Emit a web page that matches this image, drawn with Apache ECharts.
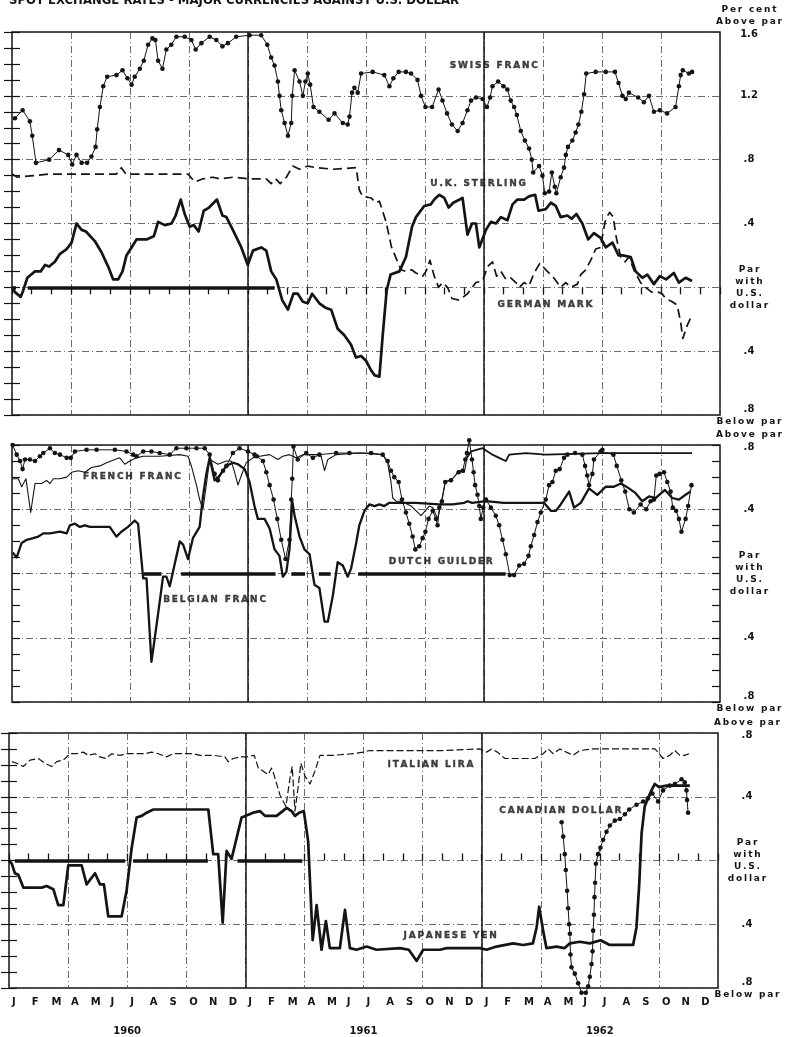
<!DOCTYPE html>
<html>
<head>
<meta charset="utf-8">
<title>Spot exchange rates - major currencies against U.S. dollar</title>
<script src="https://cdn.jsdelivr.net/npm/echarts@6/dist/echarts.min.js"></script>
<style>
  html, body { margin: 0; padding: 0; background: #fff; }
  #chart { width: 786px; height: 1037px; }
</style>
</head>
<body>
<div id="chart"></div>
<script>
// x = months since 1 Jan 1960, y = per cent above (+) / below (-) par with the U.S. dollar
const monthLetters = ["J", "F", "M", "A", "M", "J", "J", "A", "S", "O", "N", "D"]
const yearLabels = ["1960", "1961", "1962"]
const yearMidMonths = [6, 18, 30]
const yearStarts = [12, 24]
const parLabel = ["Par", "with", "U.S.", "dollar"]

// ---- panel 1
const swissFranc = [[0.15,1.06],[0.54,1.11],[0.91,1.04],[1.03,0.95],[1.22,0.78],[1.89,0.80],[2.39,0.86],[2.86,0.83],[3.06,0.77],[3.28,0.83],[3.54,0.78],[3.82,0.78],[4.04,0.82],[4.25,0.88],[4.33,0.99],[4.47,1.13],[4.64,1.26],[4.84,1.32],[5.31,1.33],[5.62,1.36],[5.87,1.31],[6.08,1.27],[6.24,1.32],[6.5,1.37],[6.7,1.42],[6.92,1.52],[7.14,1.56],[7.29,1.55],[7.43,1.42],[7.65,1.37],[7.85,1.49],[8.1,1.52],[8.36,1.57],[8.78,1.57],[9.12,1.55],[9.34,1.49],[9.63,1.53],[10.05,1.57],[10.39,1.55],[10.7,1.51],[10.98,1.53],[11.4,1.57],[12.08,1.58],[12.67,1.58],[12.98,1.52],[13.18,1.44],[13.35,1.39],[13.52,1.29],[13.6,1.20],[13.69,1.11],[13.86,1.03],[14.03,0.95],[14.2,1.03],[14.25,1.20],[14.37,1.36],[14.62,1.29],[14.79,1.20],[14.92,1.29],[15.04,1.34],[15.16,1.27],[15.33,1.13],[15.63,1.10],[16.1,1.05],[16.4,1.09],[16.82,1.03],[17.07,1.02],[17.16,1.07],[17.29,1.22],[17.41,1.25],[17.58,1.22],[17.75,1.34],[18.34,1.35],[18.93,1.33],[19.19,1.26],[19.39,1.31],[19.66,1.35],[20.03,1.35],[20.29,1.34],[20.62,1.30],[20.8,1.20],[21.02,1.13],[21.36,1.13],[21.69,1.24],[21.89,1.17],[22.12,1.09],[22.37,1.02],[22.66,0.98],[22.91,1.03],[23.16,1.11],[23.34,1.17],[23.59,1.19],[23.93,1.18],[24.15,1.13],[24.31,1.19],[24.43,1.26],[24.72,1.29],[24.99,1.26],[25.19,1.24],[25.36,1.17],[25.53,1.13],[25.67,1.08],[25.87,0.98],[26.08,0.92],[26.29,0.87],[26.43,0.80],[26.5,0.72],[26.8,0.76],[26.97,0.70],[27.09,0.59],[27.31,0.60],[27.45,0.72],[27.6,0.63],[27.68,0.59],[27.9,0.69],[28.07,0.75],[28.16,0.83],[28.27,0.88],[28.49,0.92],[28.66,0.97],[28.8,1.02],[28.95,1.10],[29.09,1.21],[29.2,1.34],[29.68,1.35],[30.19,1.35],[30.66,1.35],[30.84,1.28],[31.04,1.20],[31.21,1.18],[31.37,1.22],[31.84,1.19],[32.13,1.16],[32.39,1.20],[32.64,1.10],[32.94,1.11],[33.31,1.09],[33.74,1.13],[33.91,1.26],[34.0,1.33],[34.11,1.36],[34.42,1.34],[34.58,1.35]]
const ukSterling = [[0,0.0],[0.15,-0.03],[0.44,-0.06],[0.57,-0.02],[0.78,0.06],[1.17,0.10],[1.46,0.10],[1.68,0.14],[1.89,0.13],[2.18,0.16],[2.44,0.21],[2.78,0.24],[3.03,0.28],[3.28,0.40],[3.54,0.36],[3.76,0.35],[4.21,0.29],[4.55,0.22],[4.89,0.13],[5.14,0.05],[5.4,0.05],[5.62,0.10],[5.82,0.20],[6.08,0.25],[6.33,0.30],[6.84,0.30],[7.21,0.32],[7.43,0.41],[7.77,0.39],[8.11,0.40],[8.32,0.45],[8.58,0.55],[8.78,0.46],[9.04,0.38],[9.24,0.39],[9.49,0.35],[9.75,0.48],[10.02,0.50],[10.42,0.55],[10.7,0.45],[10.9,0.44],[11.23,0.36],[11.66,0.25],[11.99,0.14],[12.25,0.23],[12.67,0.25],[12.93,0.23],[13.18,0.10],[13.44,0.05],[13.74,-0.08],[14.03,-0.14],[14.31,-0.04],[14.53,-0.04],[14.79,-0.09],[15.04,-0.10],[15.26,-0.04],[15.63,-0.10],[15.97,-0.13],[16.23,-0.14],[16.56,-0.26],[16.9,-0.30],[17.24,-0.36],[17.49,-0.44],[17.75,-0.43],[18.0,-0.46],[18.26,-0.52],[18.43,-0.55],[18.68,-0.56],[18.85,-0.30],[19.05,-0.02],[19.25,0.08],[19.7,0.10],[20.03,0.19],[20.34,0.38],[20.54,0.44],[20.96,0.51],[21.3,0.52],[21.47,0.55],[21.73,0.58],[21.98,0.56],[22.2,0.50],[22.44,0.53],[22.91,0.56],[23.16,0.33],[23.39,0.40],[23.59,0.40],[23.76,0.25],[24.1,0.36],[24.35,0.41],[24.61,0.40],[24.86,0.44],[25.19,0.42],[25.45,0.52],[25.7,0.55],[26.04,0.55],[26.29,0.57],[26.6,0.58],[26.77,0.48],[27.14,0.49],[27.4,0.53],[27.65,0.51],[27.9,0.44],[28.24,0.45],[28.46,0.43],[28.7,0.46],[29.0,0.40],[29.3,0.30],[29.59,0.34],[29.93,0.31],[30.19,0.25],[30.53,0.28],[30.84,0.20],[31.04,0.20],[31.46,0.19],[31.71,0.10],[32.05,0.06],[32.3,0.08],[32.64,0.02],[32.94,0.07],[33.26,0.05],[33.65,0.09],[33.91,0.03],[34.25,0.06],[34.58,0.04]]
const germanMark = [[0,0.71],[0.27,0.69],[1.08,0.70],[1.93,0.71],[5.31,0.71],[5.56,0.75],[5.79,0.71],[8.95,0.71],[9.29,0.66],[9.71,0.68],[10.22,0.69],[10.56,0.68],[11.23,0.69],[12.08,0.68],[12.93,0.68],[13.18,0.65],[13.4,0.68],[13.64,0.65],[13.95,0.69],[14.28,0.76],[14.62,0.74],[15.04,0.76],[15.47,0.75],[16.31,0.74],[17.5,0.75],[17.66,0.61],[17.83,0.57],[18.26,0.56],[18.51,0.53],[18.68,0.54],[19.02,0.41],[19.3,0.25],[19.78,0.11],[20.03,0.10],[20.32,0.11],[20.54,0.09],[20.88,0.07],[21.05,0.10],[21.25,0.17],[21.47,0.07],[21.69,0.00],[21.89,0.03],[22.15,0.00],[22.37,-0.07],[22.74,-0.08],[23.16,-0.04],[23.59,0.03],[23.93,0.04],[24.18,0.13],[24.43,0.16],[24.64,0.07],[24.86,0.10],[25.11,0.05],[25.36,0.06],[25.62,0.03],[25.79,0.00],[26.04,0.03],[26.29,0.01],[26.55,0.09],[26.84,0.15],[27.14,0.11],[27.48,0.07],[27.9,0.00],[28.16,0.03],[28.41,0.00],[28.75,0.02],[28.92,0.08],[29.17,0.11],[29.43,0.17],[29.68,0.24],[29.93,0.25],[30.05,0.34],[30.19,0.43],[30.39,0.47],[30.57,0.44],[30.73,0.31],[30.95,0.19],[31.17,0.16],[31.37,0.19],[31.62,0.11],[31.96,0.03],[32.22,0.00],[32.52,-0.03],[32.86,-0.03],[33.06,-0.04],[33.23,-0.07],[33.57,-0.09],[33.82,-0.11],[34.0,-0.22],[34.11,-0.32],[34.33,-0.24],[34.55,-0.18]]

// ---- panel 2
const frenchFranc = [[0.03,0.59],[0.32,0.59],[0.49,0.54],[0.71,0.59],[0.95,0.38],[1.17,0.56],[1.51,0.56],[1.76,0.58],[1.93,0.56],[2.1,0.59],[2.44,0.59],[2.78,0.60],[3.03,0.63],[3.37,0.64],[3.71,0.63],[4.04,0.66],[4.47,0.67],[4.81,0.69],[5.23,0.71],[5.48,0.72],[5.74,0.68],[5.99,0.70],[6.33,0.72],[6.67,0.73],[7.51,0.73],[8.53,0.74],[8.95,0.73],[9.12,0.67],[9.38,0.55],[9.54,0.46],[9.71,0.40],[9.88,0.55],[10.05,0.71],[10.47,0.68],[10.9,0.70],[11.15,0.70],[11.32,0.63],[11.49,0.55],[11.66,0.61],[11.91,0.69],[12.25,0.72],[12.59,0.73],[13.1,0.74],[13.52,0.71],[13.77,0.73],[14.11,0.74],[14.45,0.72],[14.79,0.74],[15.47,0.74],[15.72,0.73],[15.89,0.64],[16.06,0.71],[16.48,0.74],[17.66,0.75],[18.85,0.74],[19.1,0.69],[19.27,0.57],[19.36,0.47],[19.53,0.45],[19.78,0.45],[20.3,0.42],[20.8,0.36],[21.22,0.42],[21.4,0.41],[21.64,0.34],[21.81,0.43],[22.03,0.57],[22.4,0.59],[22.74,0.64],[23.0,0.63],[23.13,0.72],[23.34,0.76],[23.93,0.78],[24.43,0.74],[24.77,0.72],[25.11,0.70],[25.28,0.74],[26.13,0.75],[27.14,0.74],[30.0,0.75],[34.58,0.75]]
const belgianFranc = [[0.03,0.13],[0.24,0.10],[0.49,0.19],[0.75,0.21],[1.08,0.22],[1.34,0.23],[1.59,0.25],[1.93,0.25],[2.44,0.26],[2.78,0.25],[2.94,0.30],[3.2,0.31],[3.45,0.29],[3.71,0.30],[3.96,0.29],[4.47,0.29],[4.97,0.29],[5.31,0.23],[5.56,0.26],[5.9,0.29],[6.24,0.33],[6.41,0.31],[6.67,-0.03],[6.84,-0.03],[7.09,-0.55],[7.43,-0.25],[7.68,-0.02],[7.85,-0.02],[8.02,-0.08],[8.53,0.20],[8.7,0.18],[8.95,0.09],[9.2,0.22],[9.54,0.29],[9.71,0.48],[9.88,0.62],[10.05,0.72],[10.3,0.58],[10.56,0.61],[10.9,0.67],[11.23,0.69],[11.49,0.68],[11.83,0.65],[12.08,0.57],[12.33,0.42],[12.5,0.34],[12.84,0.34],[13.1,0.28],[13.35,0.15],[13.6,0.11],[13.77,-0.02],[13.95,0.01],[14.11,0.15],[14.25,0.45],[14.37,0.36],[14.62,0.23],[14.87,0.15],[15.13,0.12],[15.38,-0.07],[15.63,-0.09],[15.89,-0.30],[16.06,-0.30],[16.31,-0.14],[16.56,0.07],[16.82,0.05],[17.07,-0.02],[17.24,0.03],[17.5,0.19],[17.66,0.30],[17.92,0.39],[18.17,0.43],[18.43,0.42],[18.68,0.43],[18.93,0.42],[19.19,0.44],[19.86,0.44],[20.54,0.44],[21.73,0.43],[22.4,0.43],[23.0,0.44],[23.16,0.45],[23.4,0.44],[24.1,0.45],[25.0,0.44],[26.13,0.44],[26.8,0.44],[27.05,0.44],[27.4,0.39],[27.65,0.39],[27.9,0.43],[28.33,0.51],[28.58,0.41],[28.92,0.44],[29.34,0.53],[29.76,0.49],[30.19,0.54],[30.6,0.54],[30.96,0.56],[31.37,0.53],[31.71,0.50],[32.05,0.45],[32.39,0.48],[32.72,0.47],[33.2,0.52],[33.57,0.47],[33.91,0.46],[34.25,0.49],[34.5,0.51]]
const dutchGuilder = [[0.03,0.80],[0.24,0.74],[0.41,0.70],[0.54,0.65],[0.66,0.71],[0.91,0.71],[1.17,0.70],[1.42,0.73],[1.59,0.75],[1.93,0.78],[2.18,0.75],[2.44,0.74],[2.78,0.72],[2.99,0.72],[3.2,0.76],[3.79,0.77],[4.3,0.77],[5.23,0.77],[5.82,0.76],[6.16,0.74],[6.33,0.73],[6.67,0.76],[7.09,0.76],[7.51,0.75],[8.02,0.74],[8.36,0.78],[8.87,0.78],[9.38,0.78],[9.8,0.78],[10.05,0.74],[10.3,0.62],[10.47,0.58],[10.73,0.64],[10.9,0.67],[11.23,0.75],[11.57,0.78],[12.0,0.76],[12.33,0.74],[12.45,0.73],[12.76,0.70],[12.93,0.63],[13.1,0.55],[13.3,0.46],[13.49,0.34],[13.69,0.21],[13.91,0.09],[14.11,0.21],[14.2,0.46],[14.25,0.59],[14.31,0.79],[14.53,0.71],[14.96,0.75],[15.3,0.72],[15.63,0.74],[16.48,0.75],[17.16,0.75],[18.26,0.75],[18.85,0.74],[19.1,0.70],[19.27,0.64],[19.44,0.60],[19.66,0.57],[19.83,0.46],[20.03,0.38],[20.2,0.31],[20.37,0.23],[20.51,0.15],[20.71,0.17],[20.88,0.22],[21.02,0.26],[21.18,0.34],[21.39,0.39],[21.56,0.34],[21.64,0.30],[21.73,0.41],[21.86,0.45],[22.03,0.57],[22.32,0.58],[22.71,0.63],[22.91,0.64],[23.05,0.71],[23.13,0.75],[23.25,0.83],[23.39,0.71],[23.47,0.63],[23.55,0.55],[23.67,0.49],[23.76,0.42],[23.84,0.34],[23.96,0.41],[24.1,0.46],[24.35,0.41],[24.6,0.36],[24.77,0.30],[24.94,0.21],[25.11,0.12],[25.31,-0.01],[25.53,-0.01],[25.79,0.05],[26.04,0.06],[26.26,0.11],[26.38,0.17],[26.55,0.24],[26.72,0.32],[26.89,0.38],[27.14,0.46],[27.31,0.55],[27.48,0.57],[27.65,0.64],[27.85,0.65],[28.07,0.72],[28.24,0.74],[28.63,0.75],[29.0,0.74],[29.14,0.67],[29.25,0.61],[29.34,0.55],[29.51,0.62],[29.59,0.71],[29.93,0.76],[30.02,0.77],[30.58,0.74],[30.75,0.67],[30.98,0.58],[31.18,0.51],[31.39,0.40],[31.62,0.38],[31.96,0.43],[32.25,0.40],[32.47,0.45],[32.64,0.46],[32.76,0.61],[32.93,0.62],[33.15,0.63],[33.32,0.57],[33.49,0.51],[33.6,0.41],[33.77,0.39],[33.91,0.34],[34.04,0.26],[34.25,0.34],[34.38,0.42],[34.55,0.55]]

// ---- panel 3
const italianLira = [[0.14,0.62],[0.39,0.61],[0.73,0.59],[1.07,0.63],[1.49,0.64],[1.83,0.61],[2.17,0.59],[2.42,0.62],[2.76,0.63],[3.1,0.67],[3.44,0.67],[3.77,0.68],[4.03,0.66],[4.37,0.67],[4.62,0.65],[4.92,0.64],[5.21,0.67],[5.63,0.66],[5.97,0.67],[6.48,0.67],[6.9,0.67],[7.24,0.68],[7.58,0.67],[8.0,0.65],[8.34,0.67],[8.68,0.67],[9.02,0.67],[9.36,0.67],[9.7,0.66],[10.37,0.66],[10.96,0.65],[11.13,0.62],[11.39,0.64],[11.73,0.65],[12.07,0.65],[12.45,0.66],[12.66,0.58],[12.91,0.56],[13.16,0.54],[13.33,0.58],[13.45,0.54],[13.76,0.41],[14.06,0.34],[14.26,0.51],[14.38,0.59],[14.52,0.31],[14.69,0.47],[14.82,0.61],[15.03,0.53],[15.28,0.48],[15.53,0.56],[15.79,0.66],[16.46,0.66],[17.48,0.67],[17.98,0.68],[18.32,0.69],[19.85,0.69],[20.86,0.69],[22.0,0.69],[23.91,0.70],[24.25,0.68],[24.5,0.70],[24.8,0.68],[25.18,0.64],[25.94,0.64],[26.7,0.64],[27.12,0.67],[27.38,0.70],[27.63,0.67],[27.97,0.70],[28.3,0.68],[28.65,0.66],[28.98,0.69],[29.66,0.70],[32.37,0.70],[32.8,0.70],[33.21,0.64],[33.55,0.66],[33.81,0.69],[34.06,0.66],[34.3,0.66],[34.53,0.67]]
const japaneseYen = [[0,0.0],[0.14,-0.02],[0.3,-0.08],[0.47,-0.09],[0.73,-0.17],[1.23,-0.17],[1.66,-0.17],[1.91,-0.16],[2.25,-0.18],[2.5,-0.28],[2.76,-0.28],[3.01,-0.03],[3.69,-0.03],[3.94,-0.15],[4.37,-0.08],[4.62,-0.15],[4.82,-0.15],[5.04,-0.35],[5.72,-0.35],[5.97,-0.19],[6.23,0.08],[6.48,0.27],[6.74,0.28],[6.99,0.30],[7.33,0.32],[8.0,0.32],[8.68,0.32],[9.53,0.32],[10.12,0.32],[10.37,0.04],[10.62,0.04],[10.85,-0.39],[11.05,0.06],[11.3,0.01],[11.81,0.27],[12.4,0.30],[12.74,0.31],[13.0,0.28],[13.59,0.28],[14.1,0.33],[14.35,0.31],[14.52,0.28],[14.74,0.30],[14.97,0.31],[15.19,0.12],[15.42,-0.50],[15.62,-0.28],[15.87,-0.56],[16.09,-0.38],[16.29,-0.55],[16.8,-0.55],[17.06,-0.31],[17.31,-0.55],[17.65,-0.56],[18.16,-0.54],[18.66,-0.56],[19.85,-0.55],[20.3,-0.56],[20.7,-0.63],[21.03,-0.56],[21.88,-0.56],[22.22,-0.55],[23.91,-0.55],[24.25,-0.56],[24.75,-0.54],[25.6,-0.52],[26.1,-0.53],[26.6,-0.52],[26.79,-0.42],[26.92,-0.29],[27.12,-0.44],[27.29,-0.55],[27.8,-0.54],[28.2,-0.55],[28.48,-0.52],[28.98,-0.51],[29.49,-0.52],[30.04,-0.50],[30.5,-0.53],[31.02,-0.53],[31.69,-0.53],[31.86,-0.42],[32.0,-0.15],[32.12,0.17],[32.28,0.34],[32.45,0.39],[32.62,0.44],[32.79,0.48],[33.01,0.46],[33.39,0.47],[34.06,0.47],[34.57,0.47]]
const canadianDollar = [[28.06,0.24],[28.14,0.15],[28.22,0.04],[28.27,-0.06],[28.34,-0.19],[28.39,-0.30],[28.44,-0.40],[28.48,-0.46],[28.51,-0.59],[28.56,-0.67],[28.73,-0.71],[28.9,-0.77],[29.07,-0.83],[29.29,-0.83],[29.41,-0.79],[29.49,-0.73],[29.58,-0.65],[29.63,-0.57],[29.66,-0.44],[29.7,-0.34],[29.73,-0.23],[29.76,-0.14],[29.8,-0.02],[29.91,0.04],[30.03,0.08],[30.17,0.13],[30.34,0.18],[30.51,0.22],[30.76,0.25],[31.02,0.26],[31.27,0.29],[31.49,0.32],[31.86,0.35],[32.2,0.37],[32.45,0.39],[32.67,0.42],[32.96,0.37],[33.21,0.44],[33.55,0.47],[33.81,0.48],[34.15,0.51],[34.31,0.49],[34.4,0.44],[34.43,0.38],[34.48,0.30]]

// stretches of the heavy par line (months), broken where curves cross it
const parSpans1 = [[0, 0.2], [0.8, 13.35], [13.86, 36.2]]
const parSpans2 = [[-0.3, 6.33], [6.7, 7.6], [8.6, 13.4], [14.2, 14.9], [15.6, 16.2], [17.6, 25.1], [26.0, 36.2]]
const parSpans3 = [[-0.1, 0.1], [0.3, 5.9], [6.3, 10.1], [11.6, 14.9], [15.4, 36.1]]

// curve names: [name, month, value]
const curveLabels1 = [["SWISS FRANC", 24.5, 1.39], ["U.K. STERLING", 23.7, 0.65], ["GERMAN MARK", 27.1, -0.11]]
const curveLabels2 = [["FRENCH FRANC", 6.1, 0.60], ["BELGIAN FRANC", 10.3, -0.16], ["DUTCH GUILDER", 21.8, 0.075]]
const curveLabels3 = [["ITALIAN LIRA", 21.4, 0.60], ["CANADIAN DOLLAR", 28.0, 0.31], ["JAPANESE YEN", 22.4, -0.47]]

// the French franc is drawn heavier once it settles near the top (from mid-1961)
const frenchHeavyFrom = 23.13

const INK = "#141414"
const spaced = (s) => s.split("").join("\u2009")

const panels = [
  { left: 12, right: 66, top: 32, height: 383, min: -0.8, max: 1.6, perCent: true, monthTicks: "top",
    parSpans: parSpans1, labels: curveLabels1,
    curves: [["Swiss franc", swissFranc, "dots"], ["U.K. sterling", ukSterling, "thick"], ["German mark", germanMark, "dashed"]] },
  { left: 12, right: 66, top: 445, height: 257, min: -0.8, max: 0.8,
    parSpans: parSpans2, labels: curveLabels2,
    curves: [
      ["French franc", frenchFranc.filter((d) => d[0] <= frenchHeavyFrom), "thin"],
      ["French franc", frenchFranc.filter((d) => d[0] >= frenchHeavyFrom), "medium"],
      ["Belgian franc", belgianFranc, "thick2"],
      ["Dutch guilder", dutchGuilder, "dots"]
    ] },
  { left: 9, right: 68, top: 733, height: 255, min: -0.8, max: 0.8, monthTicks: "bottom",
    parSpans: parSpans3, labels: curveLabels3,
    curves: [["Italian lira", italianLira, "dashedThin"], ["Japanese yen", japaneseYen, "thick"], ["Canadian dollar", canadianDollar, "dots"]] }
]

const styles = {
  thick: { lineStyle: { width: 2.7 }, symbol: "none" },
  thick2: { lineStyle: { width: 2.3 }, symbol: "none" },
  medium: { lineStyle: { width: 1.8 }, symbol: "none" },
  thin: { lineStyle: { width: 1.1 }, symbol: "none" },
  dashed: { lineStyle: { width: 1.7, type: [9, 5] }, symbol: "none" },
  dashedThin: { lineStyle: { width: 1.2, type: [7, 3] }, symbol: "none" },
  dots: { lineStyle: { width: 1 }, symbol: "circle", symbolSize: 4.6, showSymbol: true }
}

const gridLine = { color: "#444", width: 0.8, type: [7, 3, 1, 3] }

const numText = (r) => {
  const a = Math.abs(r)
  return a >= 1 ? a.toFixed(1) : "." + Math.round(a * 10)
}

const rightFormatter = (p) => (v) => {
  const r = Math.round(v * 10) / 10
  if (r === p.max) {
    const head = p.perCent ? "{t|" + spaced("Per cent") + "}\n" : ""
    return head + "{t|" + spaced("Above par") + "}\n{n|" + numText(r) + "}\n" + (p.perCent ? "{s| }" : "{s2| }")
  }
  if (r === p.min) return "{n|" + numText(r) + "}\n{t|" + spaced("Below par") + "}"
  if (r === 0) return parLabel.map((s) => "{t|" + spaced(s) + "}").join("\n")
  return "{n|" + numText(r) + "}"
}

const grid = [], xAxis = [], yAxis = [], series = []

panels.forEach((p, i) => {
  grid.push({ left: p.left, right: p.right, top: p.top, height: p.height, show: true, borderColor: INK, borderWidth: 1.5 })

  const gx = xAxis.length
  xAxis.push({
    type: "value", gridIndex: i, min: 0, max: 36, interval: 3, position: "bottom",
    axisLine: { show: false }, axisTick: { show: false }, axisLabel: { show: false },
    splitLine: { show: true, lineStyle: gridLine }
  })
  if (p.monthTicks) {
    xAxis.push({
      type: "value", gridIndex: i, min: 0, max: 36, interval: 1, position: p.monthTicks,
      axisLine: { show: false },
      axisTick: { show: true, inside: true, length: 7, lineStyle: { color: INK, width: 1.3 } },
      axisLabel: p.monthTicks === "bottom" ? {
        show: true, margin: 9, align: "left", padding: [0, 0, 0, 3],
        color: INK, fontSize: 10, fontWeight: "bold",
        formatter: (v) => (v < 36 ? monthLetters[Math.round(v) % 12] : "")
      } : { show: false },
      splitLine: { show: false }
    })
  }
  if (p.monthTicks === "bottom") {
    xAxis.push({
      type: "value", gridIndex: i, min: 0, max: 36, interval: 6, position: "bottom", offset: 30,
      axisLine: { show: false }, axisTick: { show: false }, splitLine: { show: false },
      axisLabel: {
        show: true, color: INK, fontSize: 10, fontWeight: "bold",
        formatter: (v) => { const k = yearMidMonths.indexOf(Math.round(v)); return k >= 0 ? yearLabels[k] : "" }
      }
    })
  }

  const gy = yAxis.length
  const ticks = {
    axisTick: { show: true, inside: true, length: 8, lineStyle: { color: INK, width: 1.2 } },
    minorTick: { show: true, splitNumber: 4, length: 8, lineStyle: { color: INK, width: 1.2 } }
  }
  yAxis.push(Object.assign({
    type: "value", gridIndex: i, position: "left", min: p.min, max: p.max, interval: 0.4,
    axisLine: { show: false }, axisLabel: { show: false },
    splitLine: { show: true, lineStyle: gridLine }
  }, ticks))
  yAxis.push(Object.assign({
    type: "value", gridIndex: i, position: "right", min: p.min, max: p.max, interval: 0.4,
    axisLine: { show: false }, splitLine: { show: false },
    axisLabel: {
      show: true, align: "center", margin: 29, color: INK, showMinLabel: true, showMaxLabel: true,
      formatter: rightFormatter(p),
      rich: {
        t: { fontSize: 9, fontWeight: "bold", lineHeight: 12, align: "center", color: INK },
        n: { fontSize: 10, fontWeight: "bold", lineHeight: 13, align: "center", color: INK },
        s: { fontSize: 2, lineHeight: 20 },
        s2: { fontSize: 2, lineHeight: 8 }
      }
    }
  }, ticks))

  // par line and year boundaries
  series.push({
    type: "line", xAxisIndex: gx, yAxisIndex: gy, data: [[0, 0]], symbol: "none",
    lineStyle: { width: 0, opacity: 0 }, silent: true, z: 1,
    markLine: {
      symbol: "none", silent: true, label: { show: false }, animation: false,
      data: p.parSpans.map((s) => [
        { coord: [s[0], 0], lineStyle: { color: INK, width: 3.6, type: "solid" } },
        { coord: [s[1], 0] }
      ]).concat(yearStarts.map((m) => ({ xAxis: m, lineStyle: { color: INK, width: 1.5, type: "solid" } })))
    }
  })

  p.curves.forEach(([name, data, kind]) => {
    const st = styles[kind]
    series.push({
      name, type: "line", xAxisIndex: gx, yAxisIndex: gy, data, clip: false, z: 3,
      symbol: st.symbol, symbolSize: st.symbolSize || 4, showSymbol: !!st.showSymbol, showAllSymbol: true,
      itemStyle: { color: INK },
      lineStyle: Object.assign({ color: INK, join: "round" }, st.lineStyle)
    })
  })

  series.push({
    type: "scatter", xAxisIndex: gx, yAxisIndex: gy, symbolSize: 0, silent: true, z: 5,
    data: p.labels.map((l) => [l[1], l[2], l[0]]),
    label: {
      show: true, position: "inside", color: INK, fontSize: 9, fontWeight: "bold",
      textBorderColor: INK, textBorderWidth: 0.4,
      formatter: (q) => spaced(q.data[2])
    }
  })
})

const chart = echarts.init(document.getElementById("chart"), null, { renderer: "canvas" })
chart.setOption({
  animation: false,
  backgroundColor: "#ffffff",
  textStyle: { fontFamily: "DejaVu Sans" },
  title: {
    text: "SPOT EXCHANGE RATES - MAJOR CURRENCIES AGAINST U.S. DOLLAR",
    left: 4, top: -11,
    textStyle: { fontFamily: "DejaVu Sans Condensed, DejaVu Sans", fontSize: 13, fontWeight: "bold", color: INK }
  },
  grid, xAxis, yAxis, series
})
</script>
</body>
</html>
